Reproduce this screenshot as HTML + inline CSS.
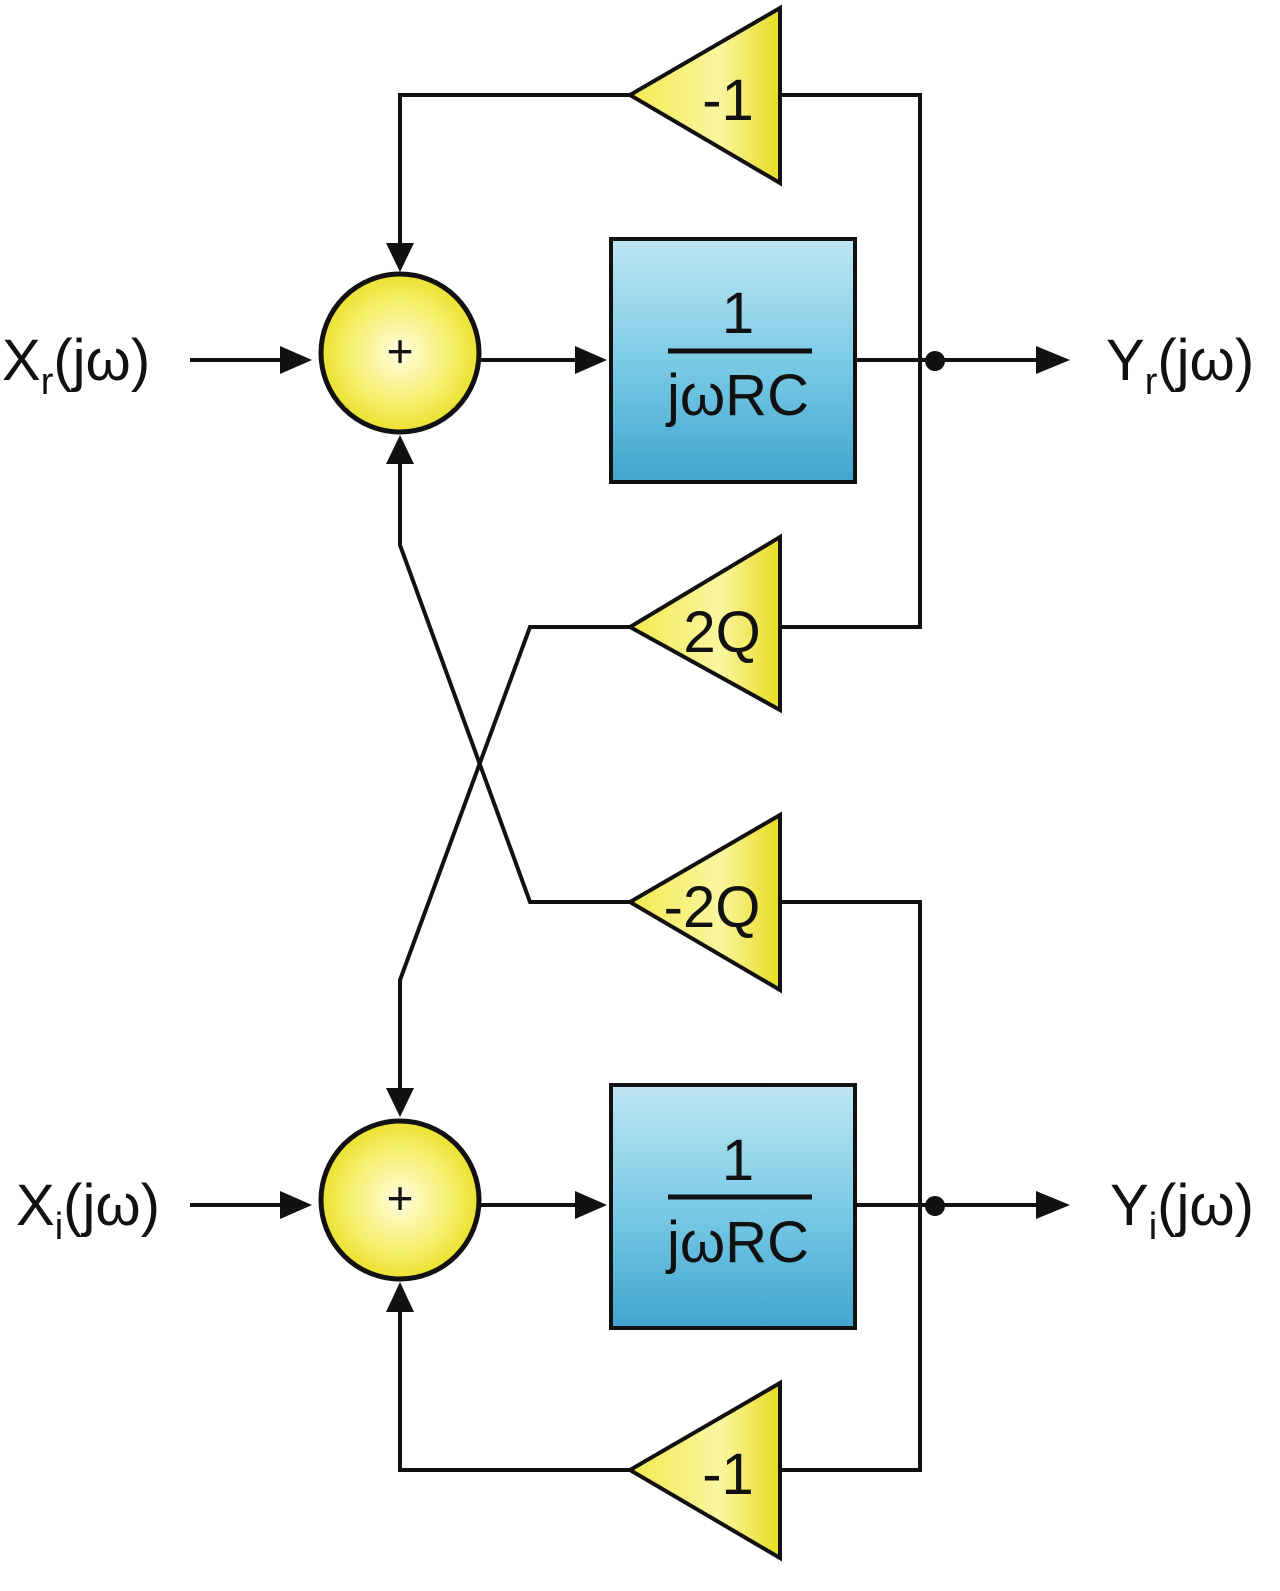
<!DOCTYPE html>
<html><head><meta charset="utf-8"><style>
html,body{margin:0;padding:0;background:#fff;}
svg{display:block;}
text{font-family:"Liberation Sans",sans-serif;fill:#111;}
</style></head><body>
<svg width="1280" height="1591" viewBox="0 0 1280 1591" xmlns="http://www.w3.org/2000/svg">
<defs>
<radialGradient id="cg" cx="50%" cy="50%" r="55%">
<stop offset="0" stop-color="#fffde0"/><stop offset="0.6" stop-color="#f6ef6a"/><stop offset="1" stop-color="#e8dc1e"/>
</radialGradient>
<linearGradient id="tg" x1="0" y1="0" x2="1" y2="0">
<stop offset="0" stop-color="#f2ea50"/><stop offset="0.6" stop-color="#faf6a0"/><stop offset="1" stop-color="#e8dc20"/>
</linearGradient>
<linearGradient id="bg" x1="0" y1="0" x2="0" y2="1">
<stop offset="0" stop-color="#bfe6f3"/><stop offset="0.5" stop-color="#7ccbe6"/><stop offset="1" stop-color="#3fa5cf"/>
</linearGradient>
</defs>
<g stroke="#111" stroke-width="4" fill="none">
<polyline points="630,95 400,95 400,250"/>
<polyline points="780,95 920,95 920,627 780,627"/>
<polyline points="630,627 530,627 400,980 400,1095"/>
<polyline points="630,902 530,902 400,545 400,455"/>
<polyline points="780,902 920,902 920,1470 780,1470"/>
<polyline points="630,1470 400,1470 400,1305"/>
<line x1="190" y1="360" x2="290" y2="360"/>
<line x1="480" y1="360" x2="585" y2="360"/>
<line x1="855" y1="360" x2="1045" y2="360"/>
<line x1="190" y1="1205" x2="290" y2="1205"/>
<line x1="480" y1="1205" x2="585" y2="1205"/>
<line x1="855" y1="1205" x2="1045" y2="1205"/>
</g>
<g fill="#111">
<polygon points="386,243 414,243 400,272"/>
<polygon points="386,1088 414,1088 400,1117"/>
<polygon points="386,464 414,464 400,435"/>
<polygon points="386,1312 414,1312 400,1282"/>
<polygon points="280,346 280,374 312,360"/>
<polygon points="575,346 575,374 607,360"/>
<polygon points="1036,346 1036,374 1070,360"/>
<polygon points="280,1191 280,1219 312,1205"/>
<polygon points="575,1191 575,1219 607,1205"/>
<polygon points="1036,1191 1036,1219 1070,1205"/>
<circle cx="935" cy="361" r="10"/>
<circle cx="935" cy="1206" r="10"/>
</g>
<g stroke="#111" stroke-width="5" fill="url(#cg)">
<circle cx="400" cy="353" r="79"/>
<circle cx="400" cy="1200" r="79"/>
</g>
<text x="400" y="367" font-size="46" text-anchor="middle">+</text>
<text x="400" y="1214" font-size="46" text-anchor="middle">+</text>
<g stroke="#111" stroke-width="4" fill="url(#tg)">
<polygon points="630,95 780,8 780,183"/>
<polygon points="630,627 780,537 780,710"/>
<polygon points="630,902 780,815 780,990"/>
<polygon points="630,1470 780,1383 780,1558"/>
</g>
<g font-size="58" text-anchor="middle">
<text x="728" y="120">-1</text>
<text x="722" y="652">2Q</text>
<text x="712" y="927">-2Q</text>
<text x="728" y="1494">-1</text>
</g>
<g stroke="#111" stroke-width="4" fill="url(#bg)">
<rect x="611" y="239" width="244" height="243"/>
<rect x="611" y="1085" width="244" height="243"/>
</g>
<g stroke="#111" stroke-width="5">
<line x1="668" y1="351" x2="812" y2="351"/>
<line x1="668" y1="1197" x2="812" y2="1197"/>
</g>
<g font-size="58" text-anchor="middle">
<text x="738" y="333">1</text>
<text x="738" y="415">jωRC</text>
<text x="738" y="1180">1</text>
<text x="738" y="1262">jωRC</text>
</g>
<g font-size="58">
<text x="2" y="380">X<tspan font-size="38" dy="14">r</tspan><tspan dy="-14">(jω)</tspan></text>
<text x="16" y="1225">X<tspan font-size="38" dy="14">i</tspan><tspan dy="-14">(jω)</tspan></text>
<text x="1106" y="380">Y<tspan font-size="38" dy="14">r</tspan><tspan dy="-14">(jω)</tspan></text>
<text x="1110" y="1225">Y<tspan font-size="38" dy="14">i</tspan><tspan dy="-14">(jω)</tspan></text>
</g>
</svg>
</body></html>
